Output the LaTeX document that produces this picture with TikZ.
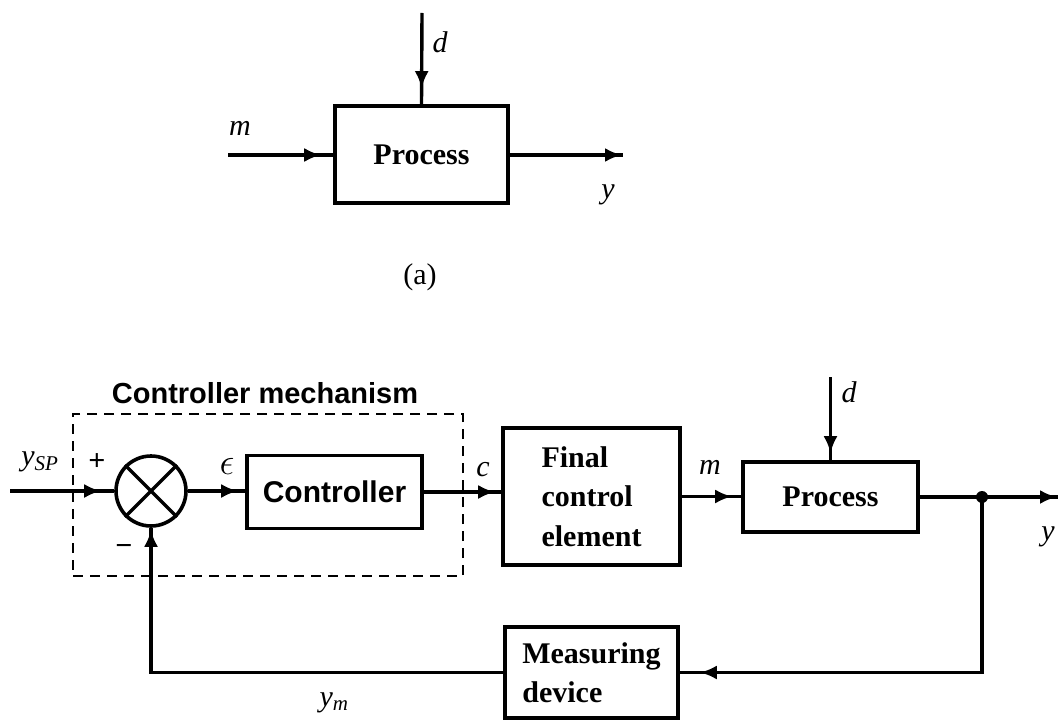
\documentclass[tikz,border=0pt]{standalone}
\usepackage{fontspec}
\setmainfont{Liberation Serif}
\setsansfont{Liberation Sans}
\usetikzlibrary{arrows.meta,decorations.markings}
\tikzset{
  lw/.style={line width=3.4pt},
  blk/.style={draw, line width=3.6pt, inner sep=0pt, align=left,
    font=\fontsize{30}{39.5}\selectfont\bfseries},
  sblk/.style={blk, font=\fontsize{30}{36}\selectfont\sffamily\bfseries},
  arr/.style={lw, postaction={decorate},
    decoration={markings, mark=at position -#1 with {\arrow{Latex[length=17pt,width=14pt]}}}},
  arr/.default=8pt,
  lbl/.style={inner sep=0pt, font=\fontsize{30}{36}\selectfont\itshape},
  sgn/.style={inner sep=0pt, font=\fontsize{30}{34}\selectfont\bfseries},
  dashbox/.style={draw, line width=1.8pt, dash pattern=on 10pt off 7pt},
}
\begin{document}
\begin{tikzpicture}[x=1pt, y=-1pt]
\useasboundingbox (0,0) rectangle (1062,722);

% ---------- (a) ----------
\node[blk, minimum width=173pt, minimum height=97pt] (p1) at (421.5,154.5) {Process};
\coordinate (d1s) at (422,13);
\coordinate (m1s) at (228,155);
\coordinate (y1e) at (623,155);
\draw[arr=16pt] (d1s) -- (p1.north);
\draw[arr=12pt] (m1s) -- (m1s -| p1.west);
\draw[arr=1pt] (y1e -| p1.east) -- (y1e);
\node[lbl] (ld1) at (440,42) {d};
\node[lbl] (lm1) at (240,128) {m};
\node[lbl] (ly1) at (608,195) {y};
\node[font=\fontsize{30}{36}\selectfont] (cap) at (420,277) {(a)};

% ---------- (b) ----------
\node[font=\fontsize{29}{34}\selectfont\sffamily\bfseries] (cmlbl) at (265,393) {Controller mechanism};
\node[dashbox, minimum width=390pt, minimum height=162pt] (cm) at (268,495) {};
\node[draw, circle, line width=3.6pt, minimum size=70pt, inner sep=0pt] (sum) at (151,491) {};
\draw[lw] (sum.45) -- (sum.225) (sum.135) -- (sum.315);
\node[sblk, minimum width=175pt, minimum height=73pt] (ctrl) at (334.5,492) {Controller};
\node[blk, minimum width=177pt, minimum height=137pt] (fce) at (591.5,496.5) {Final\\control\\element};
\node[blk, minimum width=175pt, minimum height=70pt] (p2) at (830.5,497) {Process};
\node[blk, minimum width=173pt, minimum height=91pt] (meas) at (591.5,672.5) {Measuring\\device};

\coordinate (ysps) at (10,491);
\coordinate (d2s) at (830.5,377);
\coordinate (y2e) at (1058,497);
\coordinate (jn) at (982,497);
\coordinate (fbr) at (982,672.5);
\coordinate (fbl) at (151,672.5);

\draw[arr=13pt] (ysps) -- (sum.west);
\draw[arr=7pt] (sum.east) -- (sum.east -| ctrl.west);
\draw[arr=6pt] (ctrl.east) -- (ctrl.east -| fce.west);
\draw[arr=9pt] (fce.east) -- (fce.east -| p2.west);
\draw[arr=7pt] (d2s) -- (p2.north);
\draw[arr=1pt] (p2.east) -- (y2e);
\fill (jn) circle (6pt);
\draw[arr=20pt] (jn) -- (fbr) -- (meas.east);
\draw[arr=2pt] (meas.west) -- (fbl) -- (sum.south);

\node[lbl] (lysp) at (40,462) {y\textsubscript{SP}};
\node[sgn] (lplus) at (97,462) {+};
\node[sgn] (lminus) at (124,550) {−};
\node[lbl] (leps) at (227,466) {\scalebox{1.5}{$\epsilon$}};
\node[lbl] (lc) at (483,470) {c};
\node[lbl] (lm2) at (710,467) {m};
\node[lbl] (ld2) at (849,392) {d};
\node[lbl] (ly2) at (1048,537) {y};
\node[lbl] (lym) at (334,703) {y\textsubscript{m}};
\end{tikzpicture}
\end{document}
